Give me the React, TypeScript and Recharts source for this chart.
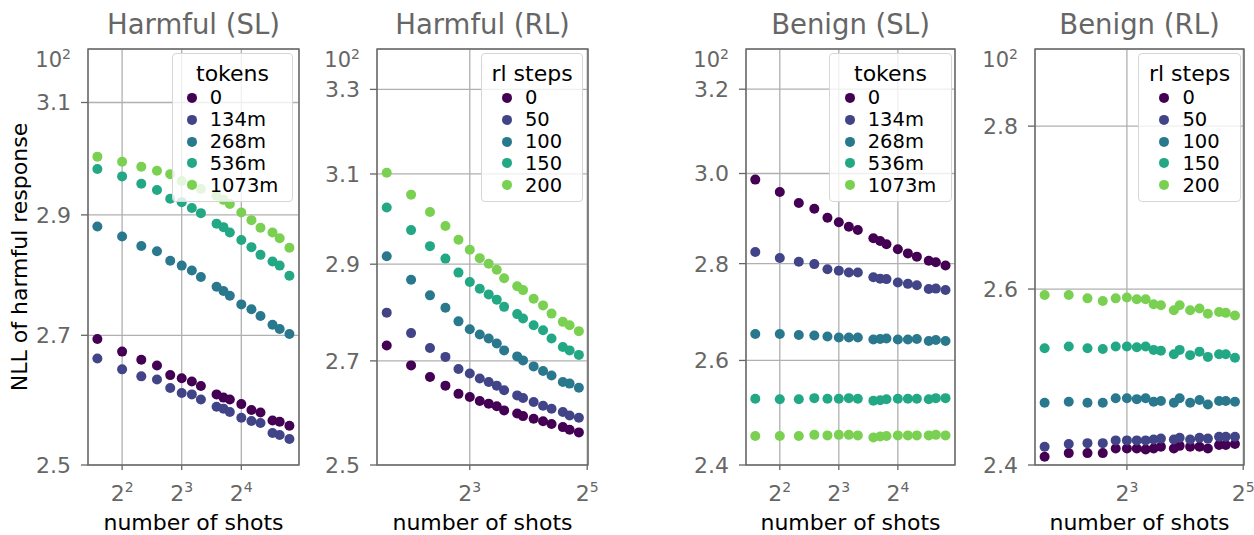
import React from 'react';
import { ScatterChart, Scatter, XAxis, YAxis, CartesianGrid, Legend, Label } from 'recharts';

// number of shots (x) — SL runs and RL runs were sampled slightly differently
const slShots = [3, 4, 5, 6, 7, 8, 9, 10, 12, 13, 14, 16, 18, 20, 23, 25, 28];
const rlShots = [3, 4, 5, 6, 7, 8, 9, 10, 11, 12, 14, 15, 17, 19, 21, 24, 26, 29];

const tokenLabels = ['0', '134m', '268m', '536m', '1073m'];
const rlStepLabels = ['0', '50', '100', '150', '200'];

// NLL of harmful response, one row per legend entry
const harmfulSL = [
  [2.694, 2.674, 2.661, 2.652, 2.637, 2.632, 2.627, 2.620, 2.607, 2.602, 2.599, 2.592, 2.583, 2.579, 2.567, 2.565, 2.559],
  [2.663, 2.646, 2.635, 2.630, 2.617, 2.609, 2.607, 2.599, 2.588, 2.585, 2.580, 2.571, 2.566, 2.563, 2.548, 2.545, 2.539],
  [2.880, 2.863, 2.847, 2.838, 2.822, 2.814, 2.806, 2.795, 2.779, 2.772, 2.764, 2.750, 2.742, 2.731, 2.717, 2.710, 2.702],
  [2.980, 2.967, 2.954, 2.943, 2.928, 2.922, 2.912, 2.903, 2.885, 2.879, 2.870, 2.857, 2.845, 2.832, 2.821, 2.814, 2.797],
  [3.002, 2.993, 2.984, 2.977, 2.971, 2.959, 2.953, 2.945, 2.933, 2.926, 2.919, 2.904, 2.891, 2.878, 2.870, 2.860, 2.844],
];

const harmfulRL = [
  [2.731, 2.691, 2.668, 2.651, 2.635, 2.629, 2.621, 2.616, 2.611, 2.603, 2.597, 2.592, 2.587, 2.582, 2.577, 2.571, 2.566, 2.561],
  [2.798, 2.756, 2.726, 2.708, 2.684, 2.675, 2.665, 2.658, 2.651, 2.642, 2.632, 2.627, 2.619, 2.612, 2.606, 2.600, 2.593, 2.589],
  [2.917, 2.867, 2.834, 2.808, 2.780, 2.764, 2.753, 2.745, 2.735, 2.721, 2.709, 2.701, 2.689, 2.680, 2.671, 2.658, 2.655, 2.647],
  [3.024, 2.974, 2.939, 2.912, 2.882, 2.862, 2.848, 2.836, 2.825, 2.810, 2.795, 2.786, 2.772, 2.762, 2.745, 2.728, 2.721, 2.712],
  [3.103, 3.053, 3.014, 2.983, 2.953, 2.931, 2.913, 2.901, 2.888, 2.870, 2.853, 2.845, 2.827, 2.813, 2.796, 2.779, 2.772, 2.760],
];

const benignSL = [
  [2.986, 2.958, 2.933, 2.920, 2.900, 2.890, 2.880, 2.873, 2.855, 2.849, 2.842, 2.831, 2.822, 2.815, 2.806, 2.803, 2.796],
  [2.825, 2.812, 2.804, 2.799, 2.788, 2.785, 2.781, 2.781, 2.771, 2.768, 2.767, 2.760, 2.757, 2.754, 2.746, 2.747, 2.744],
  [2.653, 2.653, 2.651, 2.650, 2.648, 2.646, 2.646, 2.646, 2.642, 2.643, 2.644, 2.642, 2.642, 2.643, 2.639, 2.641, 2.639],
  [2.525, 2.524, 2.524, 2.526, 2.525, 2.525, 2.526, 2.525, 2.521, 2.522, 2.524, 2.525, 2.525, 2.525, 2.524, 2.526, 2.526],
  [2.454, 2.454, 2.454, 2.456, 2.455, 2.456, 2.456, 2.455, 2.451, 2.453, 2.454, 2.455, 2.455, 2.455, 2.455, 2.456, 2.455],
];

const benignRL = [
  [2.409, 2.413, 2.413, 2.413, 2.418, 2.418, 2.418, 2.417, 2.418, 2.420, 2.418, 2.421, 2.420, 2.420, 2.418, 2.422, 2.422, 2.423],
  [2.420, 2.423, 2.424, 2.424, 2.427, 2.427, 2.427, 2.427, 2.428, 2.429, 2.428, 2.430, 2.428, 2.430, 2.429, 2.431, 2.431, 2.431],
  [2.469, 2.470, 2.469, 2.469, 2.474, 2.474, 2.473, 2.474, 2.470, 2.471, 2.469, 2.474, 2.469, 2.472, 2.467, 2.471, 2.471, 2.470],
  [2.531, 2.533, 2.531, 2.530, 2.533, 2.533, 2.532, 2.533, 2.529, 2.528, 2.524, 2.529, 2.523, 2.527, 2.521, 2.524, 2.524, 2.520],
  [2.593, 2.593, 2.589, 2.586, 2.589, 2.590, 2.588, 2.588, 2.582, 2.581, 2.575, 2.581, 2.575, 2.577, 2.571, 2.573, 2.572, 2.569],
];

const slTicks = [4, 8, 16];
const rlTicks = [8, 32];
const harmfulSLTicks = [2.5, 2.7, 2.9, 3.1];
const harmfulRLTicks = [2.5, 2.7, 2.9, 3.1, 3.3];
const benignSLTicks = [2.4, 2.6, 2.8, 3.0, 3.2];
const benignRLTicks = [2.4, 2.6, 2.8];

const COLORS = ['#440154', '#414487', '#2a788e', '#22a884', '#7ad151'];
const FONT = '"DejaVu Sans", sans-serif';
const GREY = '#666666';
const GRID = '#b0b0b0';
const FIG_W = 1254;
const FIG_H = 535;
const PLOT_TOP = 49;
const PLOT_BOTTOM = 465;
const RIGHT_PAD = 20;

const panels = [
  {
    title: 'Harmful (SL)', legendTitle: 'tokens', labels: tokenLabels, shots: slShots, values: harmfulSL,
    xDomain: [2.69, 31.3], xTicks: slTicks, yDomain: [2.5, 3.2], yTicks: harmfulSLTicks,
    plotLeft: 88, plotW: 211, axisW: 88, legendLeft: 172, legendW: 121, yLabel: true,
  },
  {
    title: 'Harmful (RL)', legendTitle: 'rl steps', labels: rlStepLabels, shots: rlShots, values: harmfulRL,
    xDomain: [2.675, 32.3], xTicks: rlTicks, yDomain: [2.5, 3.4], yTicks: harmfulRLTicks,
    plotLeft: 377, plotW: 211, axisW: 75, legendLeft: 481, legendW: 102, yLabel: false,
  },
  {
    title: 'Benign (SL)', legendTitle: 'tokens', labels: tokenLabels, shots: slShots, values: benignSL,
    xDomain: [2.69, 31.3], xTicks: slTicks, yDomain: [2.4, 3.3], yTicks: benignSLTicks,
    plotLeft: 746, plotW: 209, axisW: 75, legendLeft: 829, legendW: 123, yLabel: false,
  },
  {
    title: 'Benign (RL)', legendTitle: 'rl steps', labels: rlStepLabels, shots: rlShots, values: benignRL,
    xDomain: [2.675, 32.3], xTicks: rlTicks, yDomain: [2.4, 2.9], yTicks: benignRLTicks,
    plotLeft: 1035, plotW: 209, axisW: 75, legendLeft: 1138, legendW: 103, yLabel: false,
  },
];

const renderShotTick = (props: any) => {
  const { x, y, payload } = props;
  const exp = Math.round(Math.log2(payload.value));
  return (
    <text x={x} y={y + 29} textAnchor="middle" fill={GREY} fontSize={22} fontFamily={FONT}>
      2<tspan dy={-9.5} fontSize={14}>{exp}</tspan>
    </text>
  );
};

const makeNllTick = (top: number) => (props: any) => {
  const { x, y, payload } = props;
  if (payload.value === top) {
    return (
      <text x={x} y={y + 18} textAnchor="end" fill={GREY} fontSize={21} fontFamily={FONT}>
        10<tspan dy={-8.5} fontSize={14}>2</tspan>
      </text>
    );
  }
  return (
    <g>
      <line x1={x + 10} x2={x + 17} y1={y} y2={y} stroke={GREY} strokeWidth={1.3} />
      <text x={x} y={y} dy="0.36em" textAnchor="end" fill={GREY} fontSize={22} fontFamily={FONT}>
        {payload.value.toFixed(1)}
      </text>
    </g>
  );
};

// legend drawn in series order (Recharts would sort the payload by name)
const makeLegend = (title: string, labels: string[]) => () => (
  <div
    style={{
      boxSizing: 'border-box', height: 149, paddingTop: 6,
      border: '1px solid #d6d6d6', borderRadius: 4, background: 'rgba(255,255,255,0.8)',
      fontFamily: FONT, color: '#000', textAlign: 'center',
    }}
  >
    <div style={{ fontSize: 22, lineHeight: '27px' }}>{title}</div>
    <div style={{ display: 'inline-block', textAlign: 'left' }}>
      {labels.map((name, i) => (
        <div key={name} style={{ display: 'flex', alignItems: 'center', height: 21.8, fontSize: 19.5 }}>
          <svg width={23} height={21.8} style={{ flex: 'none' }}>
            <circle cx={5} cy={10.9} r={5} fill={COLORS[i]} />
          </svg>
          <span>{name}</span>
        </div>
      ))}
    </div>
  </div>
);

const Panel = ({ p }: { p: any }) => {
  const chartLeft = p.plotLeft - p.axisW;
  const chartW = p.axisW + p.plotW + RIGHT_PAD;
  const yTicks = [...p.yTicks, p.yDomain[1]];
  return (
    <div style={{ position: 'absolute', left: chartLeft, top: 0 }}>
      <ScatterChart width={chartW} height={FIG_H} margin={{ top: PLOT_TOP, right: RIGHT_PAD, bottom: 0, left: 0 }}>
        <CartesianGrid stroke={GRID} strokeWidth={1.3} />
        <XAxis
          type="number"
          dataKey="x"
          scale="log"
          domain={p.xDomain}
          allowDataOverflow
          ticks={p.xTicks}
          interval={0}
          height={FIG_H - PLOT_BOTTOM}
          axisLine={false}
          tickLine={{ stroke: GREY, strokeWidth: 1.3 }}
          tickSize={5}
          tickMargin={2}
          tick={renderShotTick}
          label={{ value: 'number of shots', position: 'insideBottom', offset: 5, fill: '#000', fontSize: 22, fontFamily: FONT }}
        />
        <YAxis
          type="number"
          dataKey="y"
          scale="log"
          domain={p.yDomain}
          allowDataOverflow
          ticks={yTicks}
          interval={0}
          width={p.axisW}
          axisLine={false}
          tickLine={false}
          tickSize={7}
          tickMargin={10}
          tick={makeNllTick(p.yDomain[1])}
          label={
            p.yLabel ? (
              <Label
                content={() => (
                  <text x={27} y={257} transform="rotate(-90 27 257)" textAnchor="middle" fill="#000" fontSize={22} fontFamily={FONT}>
                    NLL of harmful response
                  </text>
                )}
              />
            ) : undefined
          }
        />
        {p.values.map((row: number[], i: number) => (
          <Scatter
            key={p.labels[i]}
            name={p.labels[i]}
            data={p.shots.map((x: number, j: number) => ({ x, y: row[j] }))}
            fill={COLORS[i]}
            shape={(s: any) => <circle cx={s.cx} cy={s.cy} r={5} fill={COLORS[i]} />}
            isAnimationActive={false}
          />
        ))}
        <Legend
          layout="vertical"
          align="center"
          verticalAlign="middle"
          content={makeLegend(p.legendTitle, p.labels)}
          wrapperStyle={{ top: 53, left: p.legendLeft - chartLeft, width: p.legendW, height: 149 }}
        />
      </ScatterChart>
    </div>
  );
};

export default function App() {
  return (
    <div style={{ position: 'absolute', left: 0, top: 0, width: FIG_W, height: FIG_H, background: '#fff', fontFamily: FONT }}>
      {panels.map((p) => (
        <Panel key={p.title} p={p} />
      ))}
      <svg width={FIG_W} height={FIG_H} style={{ position: 'absolute', left: 0, top: 0, pointerEvents: 'none' }}>
        {panels.map((p) => (
          <g key={p.title}>
            <text x={p.plotLeft + p.plotW / 2} y={34} textAnchor="middle" fill={GREY} fontSize={27.5} fontFamily={FONT}>
              {p.title}
            </text>
            <rect x={p.plotLeft} y={PLOT_TOP} width={p.plotW} height={PLOT_BOTTOM - PLOT_TOP} fill="none" stroke={GREY} strokeWidth={1.4} />
          </g>
        ))}
      </svg>
    </div>
  );
}
